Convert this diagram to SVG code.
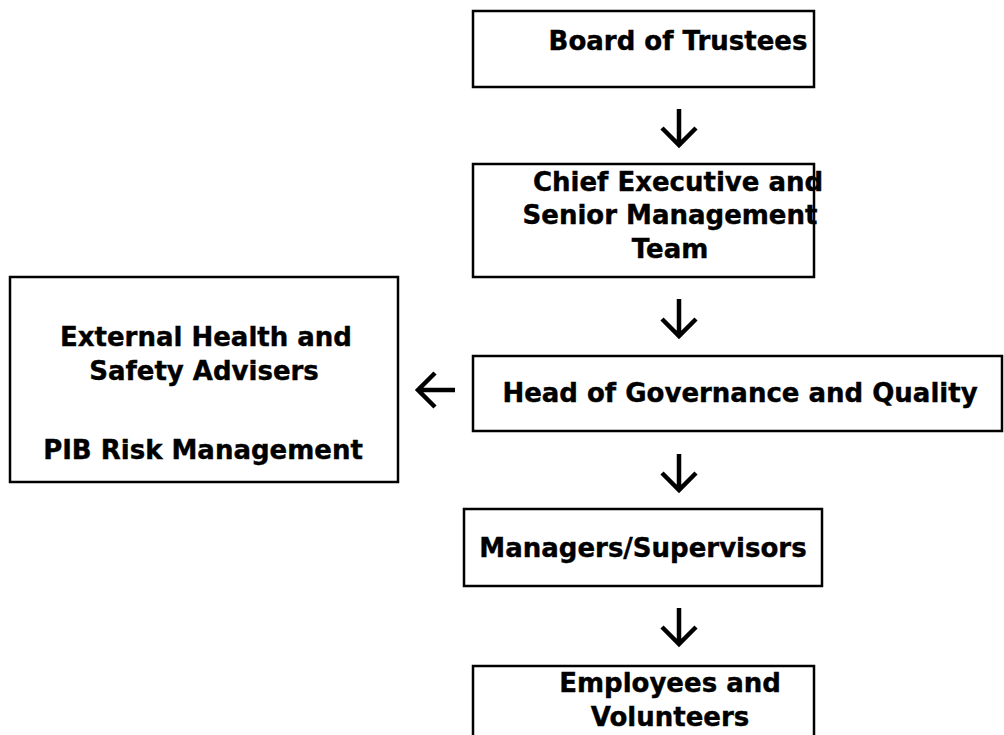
<svg xmlns="http://www.w3.org/2000/svg" width="1004" height="735" viewBox="0 0 1004 735">
<style>
.box{fill:#fff;stroke:#000;stroke-width:2.5}
.t{font-family:"DejaVu Sans",Verdana,sans-serif;font-weight:bold;font-size:26px;fill:#000;stroke:#000;stroke-width:0.4;text-anchor:middle}
.arr{fill:none;stroke:#000;stroke-width:4.5;stroke-linejoin:miter}
</style>
<rect width="1004" height="735" fill="#fff"/>
<g id="board">
<rect class="box" x="473" y="11" width="341" height="76"/>
<text class="t" x="678" y="50">Board of Trustees</text>
</g>
<g id="chief">
<rect class="box" x="473" y="164" width="341" height="113"/>
<text class="t" x="678" y="191">Chief Executive and</text>
<text class="t" x="670" y="224">Senior Management</text>
<text class="t" x="670" y="258">Team</text>
</g>
<g id="head">
<rect class="box" x="473" y="356" width="529" height="75"/>
<text class="t" x="740" y="402">Head of Governance and Quality</text>
</g>
<g id="external">
<rect class="box" x="10" y="277" width="388" height="205"/>
<text class="t" x="206" y="346">External Health and</text>
<text class="t" x="204" y="380">Safety Advisers</text>
<text class="t" x="203" y="459">PIB Risk Management</text>
</g>
<g id="managers">
<rect class="box" x="464" y="509" width="358" height="77"/>
<text class="t" x="643" y="557">Managers/Supervisors</text>
</g>
<g id="employees">
<rect class="box" x="473" y="666" width="341" height="90"/>
<text class="t" x="670" y="692">Employees and</text>
<text class="t" x="670" y="726">Volunteers</text>
</g>
<g id="connectors">
<path class="arr" d="M679 109V145M662 128L679 145L696 128"/>
<path class="arr" d="M679 299V336M662 319L679 336L696 319"/>
<path class="arr" d="M679 454V490M662 473L679 490L696 473"/>
<path class="arr" d="M679 608V644M662 627L679 644L696 627"/>
<path class="arr" d="M455 390H418M435 373L418 390L435 407"/>
</g>
</svg>
